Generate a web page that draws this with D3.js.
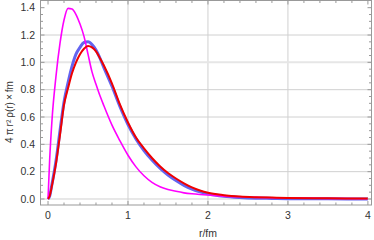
<!DOCTYPE html>
<meta charset="utf-8">
<script src="https://d3js.org/d3.v7.min.js"></script>
<style>
  body { margin: 0; background: #fff; }
  text { font-family: "Liberation Sans", Arial, sans-serif; }
</style>
<body>
<div id="my_dataviz"></div>
<script>
// radial grid (fm)
var rValues = [0, 0.02, 0.05, 0.1, 0.15, 0.2, 0.25, 0.3, 0.35, 0.4, 0.45, 0.5, 0.55, 0.6, 0.65, 0.7,
               0.8, 0.9, 1.0, 1.1, 1.2, 1.3, 1.4, 1.5, 1.6, 1.7, 1.8, 1.9, 2.0, 2.2, 2.4, 2.6, 2.8, 3.0, 3.5, 4.0];

// 4 pi r^2 rho(r) x fm
var blueValues = [0, 0.02, 0.11, 0.28, 0.50, 0.71, 0.85, 0.97, 1.06, 1.11, 1.145, 1.15, 1.13, 1.09, 1.03, 0.96,
                  0.825, 0.675, 0.545, 0.44, 0.355, 0.285, 0.225, 0.175, 0.135, 0.10, 0.073, 0.053, 0.038, 0.02, 0.011, 0.006, 0.004, 0.002, 0.001, 0.0];
var magentaValues = [0, 0.28, 0.58, 0.90, 1.14, 1.31, 1.395, 1.39, 1.35, 1.28, 1.19, 1.06, 0.93, 0.84, 0.755, 0.68,
                     0.54, 0.425, 0.32, 0.235, 0.17, 0.122, 0.09, 0.07, 0.056, 0.045, 0.038, 0.033, 0.029, 0.021, 0.016, 0.012, 0.009, 0.007, 0.004, 0.002];
var redValues = [0, 0.02, 0.10, 0.26, 0.47, 0.69, 0.81, 0.92, 1.00, 1.06, 1.10, 1.12, 1.11, 1.08, 1.03, 0.975,
                 0.845, 0.69, 0.56, 0.45, 0.37, 0.30, 0.24, 0.19, 0.15, 0.115, 0.085, 0.062, 0.045, 0.028, 0.018, 0.013, 0.010, 0.008, 0.005, 0.003];

var xTicks = [0, 1, 2, 3, 4];
var yTicks = [0, 0.2, 0.4, 0.6, 0.8, 1.0, 1.2, 1.4];
var xGrid = [1, 2, 3];
var yGrid = [0, 0.2, 0.4, 0.6, 0.8, 1.0, 1.2];

var W = 374, H = 240;
var margin = {top: 0.5, right: 2.5, bottom: 35, left: 40.5};

var svg = d3.select("#my_dataviz")
  .append("svg")
  .attr("width", W)
  .attr("height", H);

var x = d3.scaleLinear().domain([-0.094, 4.045]).range([margin.left, W - margin.right]);
var y = d3.scaleLinear().domain([-0.044, 1.4526]).range([H - margin.bottom, margin.top]);

// grid
svg.append("g").selectAll("line").data(xGrid).enter().append("line")
  .attr("x1", function(d) { return x(d); }).attr("x2", function(d) { return x(d); })
  .attr("y1", y.range()[0]).attr("y2", y.range()[1])
  .attr("stroke", "#d0d0d0").attr("stroke-width", 1);

svg.append("g").selectAll("line").data(yGrid).enter().append("line")
  .attr("x1", x.range()[0]).attr("x2", x.range()[1])
  .attr("y1", function(d) { return y(d); }).attr("y2", function(d) { return y(d); })
  .attr("stroke", function(d) { return d === 1.0 ? "#e6e6e6" : "#d0d0d0"; })
  .attr("stroke-width", function(d) { return d === 1.0 ? 2 : 1; });

// curves
var series = [
  {vals: blueValues, color: "#6464f0", w: 3},
  {vals: magentaValues, color: "#ff00ff", w: 1.6},
  {vals: redValues, color: "#f00000", w: 2}
];

var line = d3.line()
  .x(function(d) { return x(d[0]); })
  .y(function(d) { return y(d[1]); })
  .curve(d3.curveMonotoneX);

series.forEach(function(s) {
  svg.append("path")
    .datum(d3.zip(rValues, s.vals))
    .attr("fill", "none")
    .attr("stroke", s.color)
    .attr("stroke-width", s.w)
    .attr("stroke-linejoin", "round")
    .attr("d", line);
});

// frame + ticks (inward, mirrored)
var frame = "#999";
var xAll = d3.range(0, 21).map(function(i) { return i * 0.2; });
var yAll = d3.range(0, 29).map(function(i) { return i * 0.05; });

function isMajor(v, step) { return Math.abs(v / step - Math.round(v / step)) < 1e-6; }

var tk = svg.append("g").attr("stroke", frame).attr("stroke-width", 1);
xAll.forEach(function(v) {
  var len = isMajor(v, 1) ? 4 : 2.5;
  tk.append("line").attr("x1", x(v)).attr("x2", x(v)).attr("y1", y.range()[0]).attr("y2", y.range()[0] - len);
  tk.append("line").attr("x1", x(v)).attr("x2", x(v)).attr("y1", y.range()[1]).attr("y2", y.range()[1] + len);
});
yAll.forEach(function(v) {
  var len = isMajor(v, 0.2) ? 4 : 2.5;
  tk.append("line").attr("y1", y(v)).attr("y2", y(v)).attr("x1", x.range()[0]).attr("x2", x.range()[0] + len);
  tk.append("line").attr("y1", y(v)).attr("y2", y(v)).attr("x1", x.range()[1]).attr("x2", x.range()[1] - len);
});

svg.append("rect")
  .attr("x", x.range()[0]).attr("y", y.range()[1])
  .attr("width", x.range()[1] - x.range()[0]).attr("height", y.range()[0] - y.range()[1])
  .attr("fill", "none").attr("stroke", frame).attr("stroke-width", 1);

// tick labels
svg.append("g").selectAll("text").data(xTicks).enter().append("text")
  .attr("x", function(d) { return x(d); })
  .attr("y", 219)
  .attr("text-anchor", "middle")
  .attr("font-size", 10.5)
  .attr("fill", "#333")
  .text(function(d) { return d; });

svg.append("g").selectAll("text").data(yTicks).enter().append("text")
  .attr("x", 35)
  .attr("y", function(d) { return y(d) + 3.7; })
  .attr("text-anchor", "end")
  .attr("font-size", 10.5)
  .attr("fill", "#333")
  .text(function(d) { return d.toFixed(1); });

// axis titles
svg.append("text")
  .attr("x", x(2)).attr("y", 237)
  .attr("text-anchor", "middle")
  .attr("font-size", 10.5)
  .attr("fill", "#333")
  .text("r/fm");

svg.append("text")
  .attr("transform", "translate(13,112) rotate(-90)")
  .attr("text-anchor", "middle")
  .attr("font-size", 10)
  .attr("fill", "#333")
  .text("4\u2009π\u2009r²\u2009ρ(r)\u2009×\u2009fm");
</script>
</body>
